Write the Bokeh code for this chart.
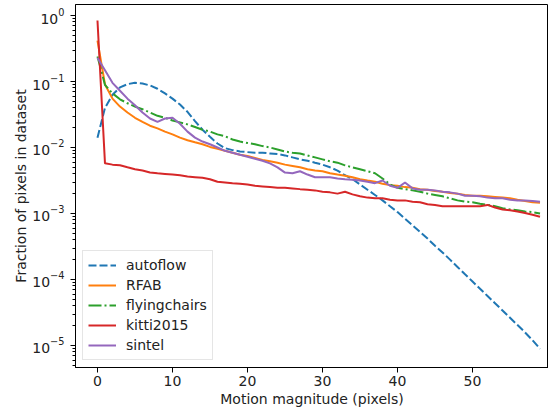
from bokeh.plotting import figure
from bokeh.models import Legend, LegendItem, FixedTicker, Range1d
from bokeh.embed import file_html
from bokeh.resources import INLINE

motion = list(range(60))

autoflow = [0.0141, 0.0398, 0.0631, 0.0813, 0.0912, 0.0955, 0.0933, 0.0871, 0.0776, 0.0661,
            0.0550, 0.0447, 0.0347, 0.0251, 0.0186, 0.0145, 0.0115, 0.00977, 0.00912, 0.00871,
            0.00851, 0.00832, 0.00832, 0.00813, 0.00794, 0.00759, 0.00708, 0.00661, 0.00631, 0.00589,
            0.00550, 0.00501, 0.00447, 0.00380, 0.00331, 0.00275, 0.00229, 0.00191, 0.00158, 0.00129,
            0.00105, 0.000832, 0.000661, 0.000525, 0.000417, 0.000324, 0.000257, 0.000200, 0.000155, 0.000120,
            9.33e-5, 7.24e-5, 5.62e-5, 4.37e-5, 3.39e-5, 2.63e-5, 2.04e-5, 1.58e-5, 1.20e-5, 8.91e-6]

rfab = [0.417, 0.0902, 0.0550, 0.0417, 0.0339, 0.0282, 0.0245, 0.0214, 0.0195, 0.0174,
        0.0158, 0.0141, 0.0129, 0.0120, 0.0112, 0.0102, 0.00955, 0.00891, 0.00832, 0.00776,
        0.00741, 0.00692, 0.00646, 0.00617, 0.00589, 0.00550, 0.00525, 0.00501, 0.00468, 0.00447,
        0.00437, 0.00407, 0.00389, 0.00372, 0.00355, 0.00331, 0.00316, 0.00302, 0.00282, 0.00269,
        0.00263, 0.00251, 0.00245, 0.00234, 0.00229, 0.00219, 0.00214, 0.00204, 0.00200, 0.00191,
        0.00186, 0.00186, 0.00182, 0.00178, 0.00174, 0.00170, 0.00162, 0.00155, 0.00148, 0.00145]

flyingchairs = [0.240, 0.0891, 0.0661, 0.0537, 0.0468, 0.0417, 0.0380, 0.0339, 0.0302, 0.0282,
                0.0257, 0.0240, 0.0224, 0.0204, 0.0186, 0.0174, 0.0158, 0.0148, 0.0132, 0.0123,
                0.0117, 0.0112, 0.0105, 0.0100, 0.00933, 0.00871, 0.00832, 0.00813, 0.00759, 0.00708,
                0.00661, 0.00617, 0.00589, 0.00537, 0.00501, 0.00468, 0.00437, 0.00407, 0.00339, 0.00275,
                0.00245, 0.00234, 0.00224, 0.00214, 0.00200, 0.00191, 0.00182, 0.00170, 0.00158, 0.00151,
                0.00148, 0.00141, 0.00135, 0.00129, 0.00120, 0.00115, 0.00112, 0.00107, 0.00105, 0.00100]

kitti2015 = [0.84, 0.00575, 0.00550, 0.00537, 0.00501, 0.00468, 0.00447, 0.00417, 0.00407, 0.00398,
             0.00389, 0.00380, 0.00363, 0.00355, 0.00347, 0.00331, 0.00302, 0.00295, 0.00288, 0.00282,
             0.00275, 0.00263, 0.00257, 0.00251, 0.00245, 0.00245, 0.00240, 0.00234, 0.00229, 0.00224,
             0.00214, 0.00209, 0.00200, 0.00214, 0.00195, 0.00182, 0.00174, 0.00170, 0.00170, 0.00162,
             0.00158, 0.00158, 0.00151, 0.00148, 0.00138, 0.00135, 0.00129, 0.00129, 0.00129, 0.00129,
             0.00129, 0.00129, 0.00135, 0.00123, 0.00115, 0.00112, 0.00107, 0.00102, 0.000955, 0.000891]

sintel = [0.229, 0.148, 0.0955, 0.0724, 0.0550, 0.0437, 0.0339, 0.0275, 0.0245, 0.0275,
          0.0282, 0.0229, 0.0174, 0.0141, 0.0123, 0.0112, 0.0100, 0.00891, 0.00832, 0.00776,
          0.00724, 0.00676, 0.00631, 0.00575, 0.00501, 0.00417, 0.00407, 0.00437, 0.00389, 0.00355,
          0.00355, 0.00355, 0.00339, 0.00331, 0.00324, 0.00316, 0.00302, 0.00288, 0.00316, 0.00263,
          0.00245, 0.00295, 0.00240, 0.00229, 0.00229, 0.00224, 0.00214, 0.00209, 0.00200, 0.00186,
          0.00186, 0.00182, 0.00174, 0.00170, 0.00170, 0.00162, 0.00158, 0.00158, 0.00155, 0.00151]

series_names = ["autoflow", "RFAB", "flyingchairs", "kitti2015", "sintel"]
x_ticks = [0, 10, 20, 30, 40, 50]

FONT = "DejaVu Sans"
FS = "14px"

p = figure(width=548, height=410, y_axis_type="log",
           x_range=Range1d(-2.93, 60.13), y_range=Range1d(4.64e-6, 1.468),
           output_backend="svg", toolbar_location=None,
           min_border_left=75, min_border_right=0, min_border_top=4, min_border_bottom=43)

p.xgrid.visible = False
p.ygrid.visible = False
p.outline_line_color = "black"
p.outline_line_width = 1
p.background_fill_color = "white"
p.border_fill_color = "white"

p.xaxis.ticker = FixedTicker(ticks=x_ticks)
p.xaxis.minor_tick_line_color = None
p.xaxis.axis_label = "Motion magnitude (pixels)"
p.yaxis.axis_label = "Fraction of pixels in dataset"

for ax in [p.xaxis[0], p.yaxis[0]]:
    ax.axis_label_text_font = FONT
    ax.axis_label_text_font_size = FS
    ax.axis_label_text_font_style = "normal"
    ax.axis_label_text_color = "#222222"
    ax.major_label_text_font = FONT
    ax.major_label_text_font_size = FS
    ax.major_label_text_color = "#222222"
    ax.major_tick_out = 5
    ax.major_tick_in = 0
    ax.axis_line_color = "black"
    ax.major_tick_line_color = "black"

p.xaxis.axis_label_standoff = 2
p.xaxis.major_label_standoff = 3
p.yaxis.axis_label_standoff = 0
p.yaxis.major_label_standoff = 6
p.yaxis.minor_tick_out = 3
p.yaxis.minor_tick_in = 0
p.yaxis.minor_tick_line_color = "black"
p.yaxis.ticker.num_minor_ticks = 10

lw = 2
r_auto = p.line(motion, autoflow, color="#1f77b4", line_width=lw, line_dash="8 3")
r_rfab = p.line(motion, rfab, color="#ff7f0e", line_width=lw)
r_fc = p.line(motion, flyingchairs, color="#2ca02c", line_width=lw, line_dash="13 3 2 3")
r_kitti = p.line(motion, kitti2015, color="#d62728", line_width=lw)
r_sintel = p.line(motion, sintel, color="#9467bd", line_width=lw)

legend = Legend(items=[LegendItem(label=n, renderers=[r]) for n, r in
                       zip(series_names, [r_auto, r_rfab, r_fc, r_kitti, r_sintel])],
                location=(7, 7))
legend.label_text_font = FONT
legend.label_text_font_size = FS
legend.label_text_color = "#222222"
legend.glyph_width = 28
legend.glyph_height = 18
legend.label_height = 18
legend.spacing = 2
legend.padding = 5
legend.margin = 0
legend.label_standoff = 10
legend.border_line_color = "#cccccc"
legend.border_line_width = 1
legend.background_fill_alpha = 0.8
p.add_layout(legend)

open("out.html", "w").write(file_html(p, INLINE))
